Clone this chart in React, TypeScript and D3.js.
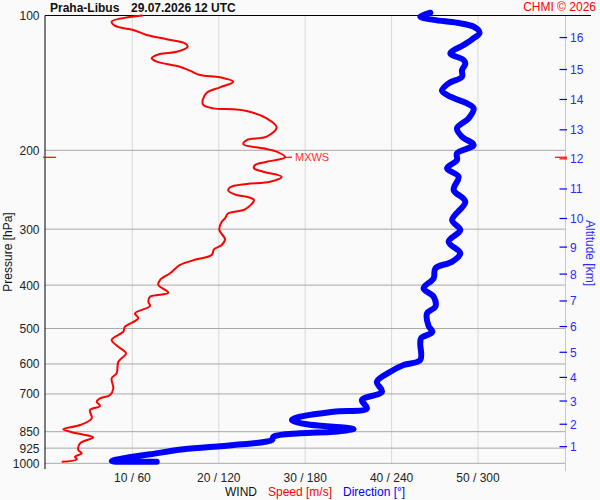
import React, { useEffect, useRef } from 'react';
import * as d3 from 'd3';

// wind speed profile [m/s] at pressure [hPa]
const speedPressure = [100, 103.2, 105.5, 107.7, 110.5, 113.0, 115.4, 117.4, 120.5, 121.9, 124.6, 126.8, 130.1, 132.8, 135.8, 137.4, 140.6, 144.7, 148.7, 154.4, 158.4, 161.2, 162.0, 163.4, 169.7, 177.7, 186.5, 189.7, 193.9, 198.0, 201.4, 207.3, 212.1, 215.7, 219.4, 223.3, 229.1, 235.1, 237.8, 241.9, 246.2, 251.7, 253.9, 258.2, 270.9, 276.5, 283.7, 288.7, 301.3, 316.1, 325.5, 332.8, 342.7, 350.3, 360.7, 376.4, 389.7, 399.8, 416.0, 424.6, 435.6, 445.4, 462.4, 474.5, 495.4, 508.3, 530.5, 549.1, 568.0, 593.1, 629.5, 645.9, 680.0, 703.9, 715.9, 728.5, 744.8, 760.3, 793.4, 821.3, 839.6, 857.0, 874.9, 902.2, 933.9, 949.9, 966.7, 979.6, 991.8];
const speedValues = [11.2, 7.6, 8.0, 10.1, 11.65, 13.97, 16.09, 16.4, 15.13, 13.19, 12.23, 12.81, 15.5, 16.67, 17.82, 20.14, 21.68, 20.14, 18.6, 18.14, 18.2, 19.36, 21.68, 23.23, 25.54, 26.7, 25.54, 23.23, 22.84, 25.15, 26.7, 27.66, 25.54, 24.19, 24.07, 25.15, 27.28, 25.93, 23.23, 21.3, 21.1, 22.07, 23.23, 24.07, 23.03, 21.1, 20.72, 20.34, 20.06, 20.72, 20.34, 19.44, 19.18, 17.44, 15.51, 14.35, 13.19, 13.0, 14.16, 12.04, 11.84, 12.04, 10.3, 10.68, 9.14, 8.95, 7.6, 8.37, 9.26, 8.37, 8.18, 7.6, 7.79, 7.41, 6.25, 5.87, 6.25, 5.09, 5.29, 3.94, 2.0, 3.55, 5.47, 3.94, 3.74, 4.13, 3.36, 3.55, 1.82];

// wind direction profile [deg] at pressure [hPa]
const dirPressure = [98.6, 100.6, 102.3, 103.8, 105.9, 109.3, 113.0, 116.4, 121.5, 125.7, 128.3, 132.3, 137.0, 141.7, 147.2, 151.8, 157.1, 161.2, 169.7, 178.6, 186.5, 194.6, 203.1, 210.2, 219.4, 229.1, 245.3, 260.5, 286.2, 301.3, 320.0, 339.7, 354.7, 366.9, 386.3, 406.6, 424.6, 447.0, 462.4, 493.6, 509.1, 525.1, 539.5, 587.9, 603.2, 624.4, 657.3, 692.0, 722.2, 753.7, 767.0, 786.9, 800.5, 818.3, 828.5, 838.3, 850.0, 857.0, 872.2, 887.1, 910.2, 930.5, 954.8, 971.6, 988.3, 991.8];
const dirValues = [266.9, 259.9, 269.2, 285.4, 297.0, 301.1, 295.9, 290.0, 280.8, 290.0, 291.2, 288.9, 288.9, 279.6, 275.0, 280.8, 292.4, 297.0, 293.5, 285.4, 288.9, 297.0, 285.4, 285.4, 278.5, 286.5, 283.1, 291.2, 282.0, 287.7, 279.6, 287.7, 282.0, 270.4, 269.2, 262.2, 269.2, 270.4, 264.6, 265.7, 268.3, 260.6, 259.9, 259.9, 248.3, 239.1, 229.8, 233.3, 219.4, 222.9, 199.7, 176.5, 170.8, 181.2, 199.7, 213.6, 199.7, 176.5, 158.0, 156.9, 130.2, 95.4, 72.3, 56.1, 45.7, 76.9];

const pressureTicks = [100, 200, 300, 400, 500, 600, 700, 850, 925, 1000];
const speedTicks = [10, 20, 30, 40, 50];
const dirTicks = [60, 120, 180, 240, 300];
const altitudeKm = [1, 2, 3, 4, 5, 6, 7, 8, 9, 10, 11, 12, 13, 14, 15, 16];
const altitudePressure = [918, 818, 726, 643, 565, 495, 434, 378, 329, 284, 244, 209, 180, 154, 132, 112];
const mxwsIndex = 31;

export default function App() {
  const svgRef = useRef<SVGSVGElement>(null);

  useEffect(() => {
    if (!svgRef.current) return;
    const svg = d3.select(svgRef.current);
    svg.selectAll('*').remove();

    const font = 'Liberation Sans, Arial, sans-serif';
    const left = 45;
    const right = 565.5;

    const x = d3.scaleLinear().domain([0, 60]).range([46, 564.4]);
    const xDir = d3.scaleLinear().domain([0, 360]).range([46, 564.4]);
    const y = d3.scaleLog().domain([100, 1000]).range([15.5, 463.3]);

    svg.append('rect').attr('width', 600).attr('height', 500).attr('fill', '#fafafa');

    // vertical grid
    svg.selectAll('.vgrid')
      .data(speedTicks)
      .enter()
      .append('line')
      .attr('x1', d => x(d)).attr('x2', d => x(d))
      .attr('y1', y(100)).attr('y2', y(1000))
      .attr('stroke', '#d9d9d9')
      .attr('stroke-width', 1);

    // pressure grid
    svg.selectAll('.hgrid')
      .data(pressureTicks.slice(1))
      .enter()
      .append('line')
      .attr('x1', left).attr('x2', right)
      .attr('y1', d => y(d)).attr('y2', d => y(d))
      .attr('stroke', '#a8a8a8')
      .attr('stroke-width', 1);

    // right axis line
    svg.append('line')
      .attr('x1', right).attr('x2', right)
      .attr('y1', y(100)).attr('y2', 471)
      .attr('stroke', '#c8c8c8');

    // top line and left axis
    svg.append('line')
      .attr('x1', left).attr('x2', 591)
      .attr('y1', y(100)).attr('y2', y(100))
      .attr('stroke', '#000');
    svg.append('line')
      .attr('x1', left).attr('x2', left)
      .attr('y1', y(100)).attr('y2', 469)
      .attr('stroke', '#000');

    // left tick labels
    svg.selectAll('.plabel')
      .data(pressureTicks)
      .enter()
      .append('text')
      .attr('x', 39.5)
      .attr('y', d => y(d) + 4.5)
      .attr('text-anchor', 'end')
      .style('font-family', font)
      .style('font-size', '12px')
      .style('fill', '#222')
      .text(d => d);

    svg.append('text')
      .attr('transform', `translate(12,${252}) rotate(-90)`)
      .attr('text-anchor', 'middle')
      .style('font-family', font)
      .style('font-size', '12px')
      .style('fill', '#111')
      .text('Pressure [hPa]');

    // altitude axis
    svg.selectAll('.atick')
      .data(altitudePressure)
      .enter()
      .append('line')
      .attr('x1', 559.5).attr('x2', 567)
      .attr('y1', d => y(d)).attr('y2', d => y(d))
      .attr('stroke', (d, i) => (altitudeKm[i] === 12 ? '#ff0000' : '#0000ff'))
      .attr('stroke-width', 1.2);

    svg.selectAll('.alabel')
      .data(altitudePressure)
      .enter()
      .append('text')
      .attr('x', 570)
      .attr('y', (d) => y(d) + 4.5)
      .style('font-family', font)
      .style('font-size', '12px')
      .style('fill', '#2a2aff')
      .text((d, i) => altitudeKm[i]);

    svg.append('text')
      .attr('transform', `translate(586,${253}) rotate(90)`)
      .attr('text-anchor', 'middle')
      .style('font-family', font)
      .style('font-size', '12px')
      .style('fill', '#2a2aff')
      .text('Altitude [km]');

    // bottom labels
    svg.selectAll('.blabel')
      .data(speedTicks)
      .enter()
      .append('text')
      .attr('x', d => x(d))
      .attr('y', 482)
      .attr('text-anchor', 'middle')
      .style('font-family', font)
      .style('font-size', '12px')
      .style('fill', '#222')
      .text((d, i) => `${d} / ${dirTicks[i]}`);

    const legend = svg.append('text')
      .attr('x', 225)
      .attr('y', 496)
      .style('font-family', font)
      .style('font-size', '12px');
    legend.append('tspan').style('fill', '#111').text('WIND');
    legend.append('tspan').attr('dx', 11).style('fill', '#ff0000').text('Speed [m/s]');
    legend.append('tspan').attr('dx', 11).style('fill', '#0000ff').text('Direction [°]');

    // title
    svg.append('text')
      .attr('x', 50).attr('y', 12)
      .style('font-family', font)
      .style('font-size', '12px')
      .style('font-weight', 'bold')
      .style('fill', '#111')
      .text('Praha-Libus');
    svg.append('text')
      .attr('x', 131).attr('y', 12)
      .style('font-family', font)
      .style('font-size', '12px')
      .style('font-weight', 'bold')
      .style('fill', '#111')
      .text('29.07.2026 12 UTC');
    svg.append('text')
      .attr('x', 596).attr('y', 11)
      .attr('text-anchor', 'end')
      .style('font-family', font)
      .style('font-size', '12px')
      .style('fill', '#ff0000')
      .text('CHMI © 2026');

    // speed line
    const speedData = speedPressure.map((p, i) => ({ p, v: speedValues[i] }));
    const speedLine = d3.line<{ p: number; v: number }>()
      .x(d => x(d.v))
      .y(d => y(d.p))
      .curve(d3.curveCatmullRom.alpha(0.5));
    svg.append('path')
      .datum(speedData)
      .attr('d', speedLine)
      .attr('fill', 'none')
      .attr('stroke', '#ff0000')
      .attr('stroke-width', 2)
      .attr('stroke-linejoin', 'round');

    // direction line
    const dirData = dirPressure.map((p, i) => ({ p, v: dirValues[i] }));
    const dirLine = d3.line<{ p: number; v: number }>()
      .x(d => xDir(d.v))
      .y(d => y(d.p))
      .curve(d3.curveCatmullRom.alpha(0.5));
    svg.append('path')
      .datum(dirData)
      .attr('d', dirLine)
      .attr('fill', 'none')
      .attr('stroke', '#0000ff')
      .attr('stroke-width', 6)
      .attr('stroke-linejoin', 'round')
      .attr('stroke-linecap', 'round');

    // max wind speed marker
    const mx = speedData[mxwsIndex];
    svg.append('line')
      .attr('x1', 43).attr('x2', 56)
      .attr('y1', y(mx.p)).attr('y2', y(mx.p))
      .attr('stroke', '#ff0000').attr('stroke-width', 1.2);
    svg.append('line')
      .attr('x1', 555).attr('x2', 567)
      .attr('y1', y(mx.p)).attr('y2', y(mx.p))
      .attr('stroke', '#ff0000').attr('stroke-width', 1.2);
    svg.append('line')
      .attr('x1', x(mx.v)).attr('x2', x(mx.v) + 7)
      .attr('y1', y(mx.p)).attr('y2', y(mx.p))
      .attr('stroke', '#ff0000').attr('stroke-width', 1.2);
    svg.append('text')
      .attr('x', x(mx.v) + 10)
      .attr('y', y(mx.p) + 4)
      .style('font-family', font)
      .style('font-size', '11px')
      .style('fill', '#ff3030')
      .text('MXWS');
  }, []);

  return (
    <svg
      ref={svgRef}
      width={600}
      height={500}
      style={{ position: 'absolute', left: 0, top: 0 }}
    />
  );
}
